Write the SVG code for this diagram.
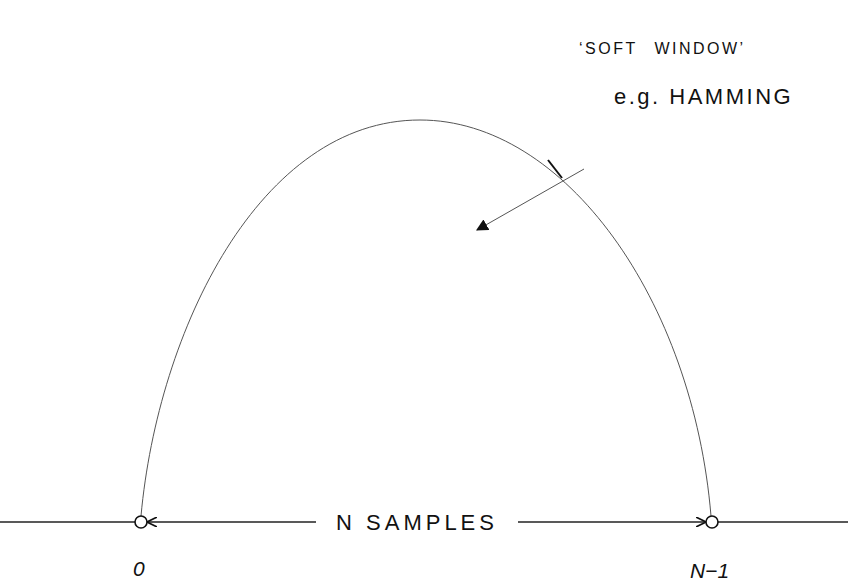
<svg xmlns="http://www.w3.org/2000/svg" width="854" height="585" viewBox="0 0 854 585">
<defs>
<style>
.t{font-family:"Liberation Sans",Arial,sans-serif;fill:#111;}
.ln{stroke:#222;fill:none;stroke-width:1.3;}
.thin{stroke:#555;fill:none;stroke-width:1;}
</style>
<marker id="open" viewBox="0 0 10 10" refX="9" refY="5" markerWidth="10" markerHeight="10" orient="auto" markerUnits="userSpaceOnUse">
<path d="M0,0 L10,5 L0,10" fill="none" stroke="#111" stroke-width="1.6"/>
</marker>
<marker id="fill" viewBox="0 0 10 10" refX="9" refY="5" markerWidth="12" markerHeight="12" orient="auto" markerUnits="userSpaceOnUse">
<path d="M0,0 L10,5 L0,10 z" fill="#111"/>
</marker>
</defs>
<rect width="854" height="585" fill="#fff"/>
<g id="window">
<path class="thin" d="M141,516 C158,330 260,120 420,120 C565,120 693,300 711,516"/>
</g>
<g id="connectors">
<line class="ln" x1="0" y1="522" x2="135" y2="522"/>
<line class="ln" x1="718" y1="522" x2="848" y2="522"/>
<line class="ln" x1="316" y1="522" x2="148" y2="522" marker-end="url(#open)"/>
<line class="ln" x1="518" y1="522" x2="705" y2="522" marker-end="url(#open)"/>
<line class="thin" x1="584" y1="169" x2="477" y2="230" marker-end="url(#fill)"/>
<line x1="548" y1="160" x2="562" y2="178" stroke="#111" stroke-width="2"/>
</g>
<g id="start">
<circle cx="141" cy="522" r="6" fill="#fff" stroke="#111" stroke-width="1.6"/>
<text class="t" x="133" y="576" font-size="21" font-style="italic">0</text>
</g>
<g id="end">
<circle cx="712" cy="522" r="6" fill="#fff" stroke="#111" stroke-width="1.6"/>
<text class="t" x="690" y="578" font-size="21" font-style="italic">N−1</text>
</g>
<g id="label-samples">
<text class="t" x="417" y="530" font-size="22" text-anchor="middle" letter-spacing="4">N SAMPLES</text>
</g>
<g id="label-window">
<text class="t" x="579" y="54" font-size="16" letter-spacing="2.5" word-spacing="10">‘SOFT WINDOW’</text>
<text class="t" x="614" y="104" font-size="22" letter-spacing="2.5">e.g. HAMMING</text>
</g>
</svg>
